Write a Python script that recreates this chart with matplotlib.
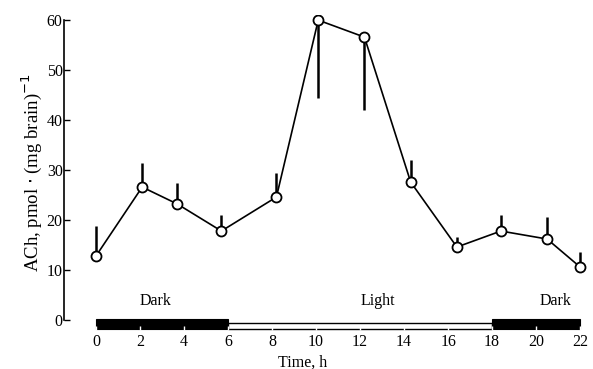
import matplotlib
matplotlib.use("Agg")
import matplotlib.pyplot as plt
from matplotlib.patches import Rectangle

plt.rcParams['font.family'] = ['Liberation Serif', 'DejaVu Serif']

# time of day (h) and ACh level, with error bar extents
hours = [0.0, 2.1, 3.7, 5.7, 8.2, 10.1, 12.2, 14.3, 16.4, 18.4, 20.5, 22.0]
ach = [12.8, 26.6, 23.2, 17.8, 24.6, 60.0, 56.6, 27.6, 14.6, 17.8, 16.2, 10.6]
err_up = [6.0, 4.8, 4.2, 3.2, 4.8, 0.0, 0.0, 4.4, 2.0, 3.2, 4.4, 3.0]
err_down = [0.0, 0.0, 0.0, 0.0, 0.0, 15.6, 14.6, 0.0, 0.0, 0.0, 0.0, 0.0]

# light/dark periods (start, end, dark?)
periods = [(0, 6, True), (6, 18, False), (18, 22, True)]
period_labels = [("Dark", 2.7), ("Light", 12.8), ("Dark", 20.9)]

xticks = list(range(0, 23, 2))
yticks = list(range(0, 61, 10))

fig = plt.figure(figsize=(5.93, 3.69), dpi=100)
ax = fig.add_axes([0.108, 0.1057, 0.887, 0.8533])

ax.errorbar(hours, ach, yerr=[err_down, err_up], fmt='none', ecolor='black',
            elinewidth=1.8, capsize=0, zorder=2)
ax.plot(hours, ach, '-o', color='black', lw=1.2, markersize=7.2,
        markerfacecolor='white', markeredgecolor='black', markeredgewidth=1.3,
        zorder=3)

# day/night bar along the time axis
for start, end, dark in periods:
    if dark:
        ax.add_patch(Rectangle((start, -1.8), end - start, 2.0, facecolor='black',
                               edgecolor='black', lw=0.8, clip_on=False))
    else:
        ax.add_patch(Rectangle((start, -1.8), end - start, 1.2, facecolor='white',
                               edgecolor='black', lw=1.0, clip_on=False))
for text, xpos in period_labels:
    ax.text(xpos, 2.3, text, ha='center', va='bottom', fontsize=11.5)

ax.set_xlim(-1.45, 22.45)
ax.set_ylim(-2, 61)
ax.spines['top'].set_visible(False)
ax.spines['right'].set_visible(False)
ax.spines['bottom'].set_visible(False)
ax.spines['left'].set_bounds(0, 60)
ax.spines['left'].set_linewidth(1.2)

ax.set_yticks(yticks)
ax.set_xticks(xticks)
ax.tick_params(axis='y', direction='in', length=4, width=1, pad=1, labelsize=11.5)
ax.tick_params(axis='x', direction='in', length=3, width=1, pad=3, labelsize=11.5,
               color='white')

ax.text(9.4, -8.5, "Time, h", ha='center', va='center', fontsize=11.5)
ax.set_ylabel(r"ACh, pmol $\cdot$ (mg brain)$^{-1}$", fontsize=13.5, labelpad=2)

fig.savefig("out.png", dpi=100)
